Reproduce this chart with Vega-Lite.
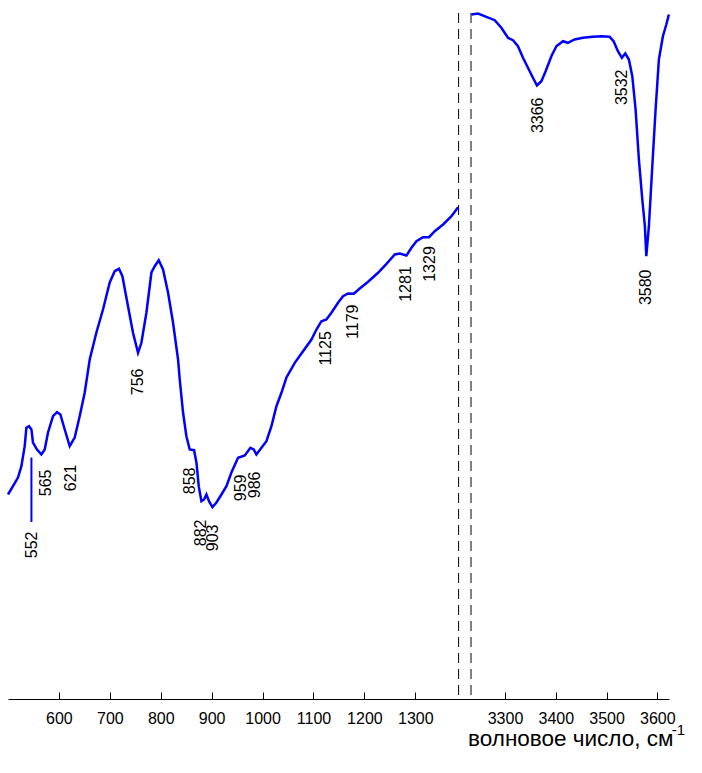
{
  "$schema": "https://vega.github.io/schema/vega-lite/v6.json",
  "width": 661,
  "height": 686,
  "autosize": {"type": "none"},
  "padding": {"left": 8, "top": 13, "right": 33, "bottom": 74},
  "background": "white",
  "config": {"view": {"stroke": null}, "font": "Liberation Sans"},
  "title": {"text": "-1", "orient": "bottom", "anchor": "end", "fontSize": 15, "font": "Liberation Sans", "fontWeight": "normal", "color": "black", "baseline": "alphabetic", "offset": 0, "dx": 10, "dy": -15},
  "datasets": {
    "spectrum": [
      {"wn": 500, "t": 204.5, "seg": "low"},
      {"wn": 509.8, "t": 212.8, "seg": "low"},
      {"wn": 519.6, "t": 221.5, "seg": "low"},
      {"wn": 526.3, "t": 232.8, "seg": "low"},
      {"wn": 532.8, "t": 252.8, "seg": "low"},
      {"wn": 536.1, "t": 271.2, "seg": "low"},
      {"wn": 541.3, "t": 272.8, "seg": "low"},
      {"wn": 546, "t": 269.5, "seg": "low"},
      {"wn": 549.1, "t": 256.5, "seg": "low"},
      {"wn": 557, "t": 249.5, "seg": "low"},
      {"wn": 565.6, "t": 244.5, "seg": "low"},
      {"wn": 572.1, "t": 249.5, "seg": "low"},
      {"wn": 578.6, "t": 266.5, "seg": "low"},
      {"wn": 588.4, "t": 282.8, "seg": "low"},
      {"wn": 596.3, "t": 286.8, "seg": "low"},
      {"wn": 602.9, "t": 284.5, "seg": "low"},
      {"wn": 611.4, "t": 269.5, "seg": "low"},
      {"wn": 621.2, "t": 252.8, "seg": "low"},
      {"wn": 631, "t": 261.5, "seg": "low"},
      {"wn": 640.8, "t": 282.8, "seg": "low"},
      {"wn": 650.7, "t": 306.5, "seg": "low"},
      {"wn": 660.5, "t": 339.5, "seg": "low"},
      {"wn": 673.6, "t": 366.5, "seg": "low"},
      {"wn": 686.6, "t": 389.5, "seg": "low"},
      {"wn": 699.8, "t": 416.5, "seg": "low"},
      {"wn": 709.6, "t": 427.8, "seg": "low"},
      {"wn": 718, "t": 430.2, "seg": "low"},
      {"wn": 724.7, "t": 422.8, "seg": "low"},
      {"wn": 735.7, "t": 392.8, "seg": "low"},
      {"wn": 745.5, "t": 366.2, "seg": "low"},
      {"wn": 755.4, "t": 346.2, "seg": "low"},
      {"wn": 762, "t": 356.2, "seg": "low"},
      {"wn": 771.9, "t": 386.5, "seg": "low"},
      {"wn": 781.7, "t": 426.5, "seg": "low"},
      {"wn": 788.2, "t": 432.8, "seg": "low"},
      {"wn": 796, "t": 438.8, "seg": "low"},
      {"wn": 804.5, "t": 429.5, "seg": "low"},
      {"wn": 814.3, "t": 406.5, "seg": "low"},
      {"wn": 824.1, "t": 376.5, "seg": "low"},
      {"wn": 834, "t": 339.5, "seg": "low"},
      {"wn": 837.3, "t": 319.5, "seg": "low"},
      {"wn": 843.8, "t": 286.5, "seg": "low"},
      {"wn": 850.4, "t": 262.8, "seg": "low"},
      {"wn": 856.9, "t": 249.5, "seg": "low"},
      {"wn": 865.4, "t": 248.8, "seg": "low"},
      {"wn": 870.1, "t": 236.5, "seg": "low"},
      {"wn": 874.6, "t": 212.8, "seg": "low"},
      {"wn": 879.9, "t": 197.8, "seg": "low"},
      {"wn": 885, "t": 199.5, "seg": "low"},
      {"wn": 889.7, "t": 204.5, "seg": "low"},
      {"wn": 894.8, "t": 197.8, "seg": "low"},
      {"wn": 901.5, "t": 191.8, "seg": "low"},
      {"wn": 909.4, "t": 196.5, "seg": "low"},
      {"wn": 919.2, "t": 204.5, "seg": "low"},
      {"wn": 929, "t": 212.8, "seg": "low"},
      {"wn": 938.8, "t": 226.5, "seg": "low"},
      {"wn": 951.8, "t": 241.2, "seg": "low"},
      {"wn": 965, "t": 243.5, "seg": "low"},
      {"wn": 976.1, "t": 251.2, "seg": "low"},
      {"wn": 982.6, "t": 249.5, "seg": "low"},
      {"wn": 987.9, "t": 244.5, "seg": "low"},
      {"wn": 997.8, "t": 251.2, "seg": "low"},
      {"wn": 1007.6, "t": 257.8, "seg": "low"},
      {"wn": 1017.4, "t": 272.8, "seg": "low"},
      {"wn": 1027.2, "t": 292.8, "seg": "low"},
      {"wn": 1037, "t": 306.2, "seg": "low"},
      {"wn": 1046.9, "t": 321.5, "seg": "low"},
      {"wn": 1063.2, "t": 336.2, "seg": "low"},
      {"wn": 1079.5, "t": 347.8, "seg": "low"},
      {"wn": 1096, "t": 359.5, "seg": "low"},
      {"wn": 1105.8, "t": 369.5, "seg": "low"},
      {"wn": 1115.6, "t": 377.8, "seg": "low"},
      {"wn": 1125.4, "t": 379.5, "seg": "low"},
      {"wn": 1135.2, "t": 386.2, "seg": "low"},
      {"wn": 1148.2, "t": 396.2, "seg": "low"},
      {"wn": 1158, "t": 402.8, "seg": "low"},
      {"wn": 1167.9, "t": 405.5, "seg": "low"},
      {"wn": 1179.1, "t": 405.2, "seg": "low"},
      {"wn": 1190.9, "t": 410.5, "seg": "low"},
      {"wn": 1207.2, "t": 417.2, "seg": "low"},
      {"wn": 1226.8, "t": 426.2, "seg": "low"},
      {"wn": 1243.3, "t": 435.2, "seg": "low"},
      {"wn": 1259.6, "t": 444.5, "seg": "low"},
      {"wn": 1269.5, "t": 445.5, "seg": "low"},
      {"wn": 1282.6, "t": 443.5, "seg": "low"},
      {"wn": 1292.4, "t": 451.2, "seg": "low"},
      {"wn": 1302.2, "t": 457.8, "seg": "low"},
      {"wn": 1315.2, "t": 461.8, "seg": "low"},
      {"wn": 1327, "t": 461.8, "seg": "low"},
      {"wn": 1338.2, "t": 467.8, "seg": "low"},
      {"wn": 1354.5, "t": 474.5, "seg": "low"},
      {"wn": 1371, "t": 482.8, "seg": "low"},
      {"wn": 1384, "t": 491.8, "seg": "low"},
      {"wn": 3233.8, "t": 684.5, "seg": "high"},
      {"wn": 3246.8, "t": 685.5, "seg": "high"},
      {"wn": 3263.3, "t": 682.2, "seg": "high"},
      {"wn": 3279.7, "t": 678.8, "seg": "high"},
      {"wn": 3292.8, "t": 671.2, "seg": "high"},
      {"wn": 3305.8, "t": 661.2, "seg": "high"},
      {"wn": 3315.7, "t": 658.8, "seg": "high"},
      {"wn": 3325.5, "t": 652.8, "seg": "high"},
      {"wn": 3335.4, "t": 641.2, "seg": "high"},
      {"wn": 3345.2, "t": 631.2, "seg": "high"},
      {"wn": 3355, "t": 621.2, "seg": "high"},
      {"wn": 3362.9, "t": 613.5, "seg": "high"},
      {"wn": 3371.6, "t": 617.8, "seg": "high"},
      {"wn": 3380, "t": 627.8, "seg": "high"},
      {"wn": 3391.3, "t": 642.8, "seg": "high"},
      {"wn": 3401.1, "t": 652.8, "seg": "high"},
      {"wn": 3414.1, "t": 657.8, "seg": "high"},
      {"wn": 3423.9, "t": 656.2, "seg": "high"},
      {"wn": 3437.1, "t": 659.5, "seg": "high"},
      {"wn": 3453.5, "t": 661.2, "seg": "high"},
      {"wn": 3473.2, "t": 662.2, "seg": "high"},
      {"wn": 3489.7, "t": 662.8, "seg": "high"},
      {"wn": 3506, "t": 662.2, "seg": "high"},
      {"wn": 3513.9, "t": 657.8, "seg": "high"},
      {"wn": 3522.4, "t": 647.8, "seg": "high"},
      {"wn": 3530.2, "t": 641.2, "seg": "high"},
      {"wn": 3536.9, "t": 645.5, "seg": "high"},
      {"wn": 3544, "t": 639.5, "seg": "high"},
      {"wn": 3550.7, "t": 622.8, "seg": "high"},
      {"wn": 3557.2, "t": 589.5, "seg": "high"},
      {"wn": 3563.7, "t": 539.5, "seg": "high"},
      {"wn": 3570.4, "t": 499.5, "seg": "high"},
      {"wn": 3575.5, "t": 472.8, "seg": "high"},
      {"wn": 3578.3, "t": 442.8, "seg": "high"},
      {"wn": 3583.4, "t": 472.8, "seg": "high"},
      {"wn": 3590.1, "t": 532.8, "seg": "high"},
      {"wn": 3596.6, "t": 589.5, "seg": "high"},
      {"wn": 3603.1, "t": 639.5, "seg": "high"},
      {"wn": 3611, "t": 662.8, "seg": "high"},
      {"wn": 3617.7, "t": 674.5, "seg": "high"},
      {"wn": 3622.8, "t": 684.5, "seg": "high"}
    ],
    "labels": [
      {"wn": 548, "t": 167.5, "label": "552"},
      {"wn": 575, "t": 229.5, "label": "565"},
      {"wn": 624, "t": 234.5, "label": "621"},
      {"wn": 755, "t": 330.5, "label": "756"},
      {"wn": 858, "t": 231.5, "label": "858"},
      {"wn": 880, "t": 179.5, "label": "882"},
      {"wn": 903, "t": 174.5, "label": "903"},
      {"wn": 958.5, "t": 224.5, "label": "959"},
      {"wn": 986, "t": 227.5, "label": "986"},
      {"wn": 1124, "t": 367.8, "label": "1125"},
      {"wn": 1177, "t": 394.5, "label": "1179"},
      {"wn": 1281, "t": 432.8, "label": "1281"},
      {"wn": 1328, "t": 452.8, "label": "1329"},
      {"wn": 3365, "t": 601.5, "label": "3366"},
      {"wn": 3530, "t": 629.5, "label": "3532"},
      {"wn": 3578, "t": 429.5, "label": "3580"}
    ],
    "marker": [
      {"wn": 546, "t1": 177, "t2": 241.5}
    ],
    "breaks": [
      {"wn": 1385},
      {"wn": 3233}
    ]
  },
  "encoding": {
    "x": {
      "field": "wn",
      "type": "quantitative",
      "scale": {"domain": [500, 1385, 3233, 3623], "range": [0, 450.6, 463, 661], "nice": false, "zero": false},
      "axis": {
        "values": [600, 700, 800, 900, 1000, 1100, 1200, 1300, 3300, 3400, 3500, 3600],
        "format": "d",
        "grid": false,
        "domainColor": "black",
        "domainWidth": 1,
        "tickColor": "black",
        "tickWidth": 1,
        "tickSize": -7,
        "labelPadding": 18,
        "labelFont": "Liberation Sans",
        "labelFontSize": 16,
        "labelColor": "black",
        "labelBaseline": "top",
        "labelFlush": false,
        "labelOverlap": false,
        "title": "волновое число, см",
        "titleFont": "Liberation Sans",
        "titleFontSize": 22.5,
        "titleFontWeight": "normal",
        "titleColor": "black",
        "titleAnchor": "end",
        "titleAlign": "right",
        "titleBaseline": "alphabetic",
        "titleX": 665,
        "titleY": 46.5
      }
    }
  },
  "layer": [
    {
      "data": {"name": "breaks"},
      "mark": {"type": "rule", "color": "black", "strokeWidth": 1, "strokeDash": [10, 6]},
      "encoding": {}
    },
    {
      "data": {"name": "spectrum"},
      "mark": {"type": "line", "color": "#0000FF", "strokeWidth": 2.5, "interpolate": "linear"},
      "encoding": {
        "y": {"field": "t", "type": "quantitative", "scale": {"domain": [0, 686], "nice": false, "zero": false}, "axis": null},
        "detail": {"field": "seg", "type": "nominal"},
        "order": {"field": "wn", "type": "quantitative"}
      }
    },
    {
      "data": {"name": "marker"},
      "mark": {"type": "rule", "color": "#0000FF", "strokeWidth": 2},
      "encoding": {
        "y": {"field": "t1", "type": "quantitative", "scale": {"domain": [0, 686], "nice": false, "zero": false}, "axis": null},
        "y2": {"field": "t2"}
      }
    },
    {
      "data": {"name": "labels"},
      "mark": {"type": "text", "angle": 270, "align": "right", "baseline": "middle", "font": "Liberation Sans", "fontSize": 16, "color": "black"},
      "encoding": {
        "y": {"field": "t", "type": "quantitative", "scale": {"domain": [0, 686], "nice": false, "zero": false}, "axis": null},
        "text": {"field": "label", "type": "nominal"}
      }
    }
  ]
}
